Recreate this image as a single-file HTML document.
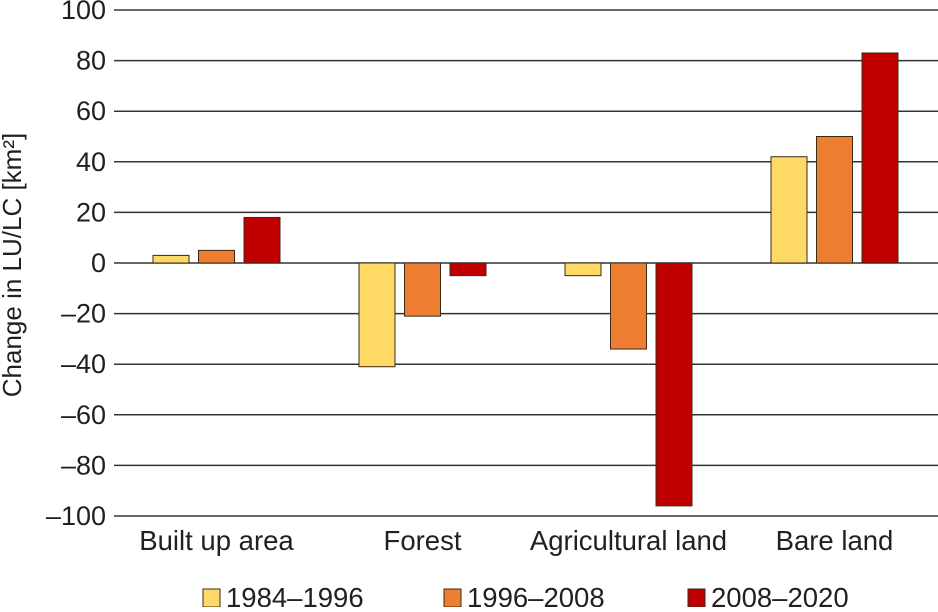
<!DOCTYPE html>
<html><head><meta charset="utf-8"><style>
body{margin:0;background:#fff;}
svg text{font-family:"Liberation Sans",sans-serif;fill:#231f20;}
</style></head><body>
<svg width="938" height="607">
<g id="grid"></g><g id="bars"></g><g id="labels"></g><g id="legend"></g>
<text transform="translate(21,265) rotate(-90)" text-anchor="middle" font-size="26">Change in LU/LC [km²]</text>
</svg>
<script>
const categories=["Built up area","Forest","Agricultural land","Bare land"];
const series=["1984–1996","1996–2008","2008–2020"];
const s1=[3,-41,-5,42];
const s2=[5,-21,-34,50];
const s3=[18,-5,-96,83];
const ticks=[100,80,60,40,20,0,-20,-40,-60,-80,-100];
const tickLabels=["100","80","60","40","20","0","–20","–40","–60","–80","–100"];
const colors=["#ffd966","#ed7d31","#c00000"];
const NS="http://www.w3.org/2000/svg";
const y=v=>263-v*2.53;
const x=(i,j)=>153+i*206+j*45.5;
function mk(t,a,p){const e=document.createElementNS(NS,t);for(const k in a)e.setAttribute(k,a[k]);document.getElementById(p).appendChild(e);return e;}
ticks.forEach((t,i)=>{
 const l=mk('line',{x1:114,x2:938,y1:y(t),y2:y(t),stroke:'#333','stroke-width':1.5},'grid');
 
 
 const tx=mk('text',{x:106,y:y(t)+9,'text-anchor':'end','font-size':27},'grid');
 tx.textContent=tickLabels[i];
 
 
});
[s1,s2,s3].forEach((s,j)=>s.forEach((v,i)=>{
 const r=mk('rect',{x:x(i,j),width:36,y:Math.min(y(v),y(0)),height:Math.abs(y(v)-y(0)),fill:colors[j],stroke:'#3a2a1a','stroke-width':1},'bars');
 
 
}));
categories.forEach((c,i)=>{
 const t=mk('text',{x:x(i,1)+18,y:550,'text-anchor':'middle','font-size':27.5},'labels');
 t.textContent=c;
 
 
});
const lx=[203,444,688];
series.forEach((s,j)=>{
 const r=mk('rect',{x:lx[j],y:589,width:17,height:18,fill:colors[j],stroke:'#3a2a1a','stroke-width':1},'legend');
 
 
 const t=mk('text',{x:lx[j]+23,y:607,'font-size':27.5},'legend');
 t.textContent=s;
 
 
});
</script>
</body></html>
